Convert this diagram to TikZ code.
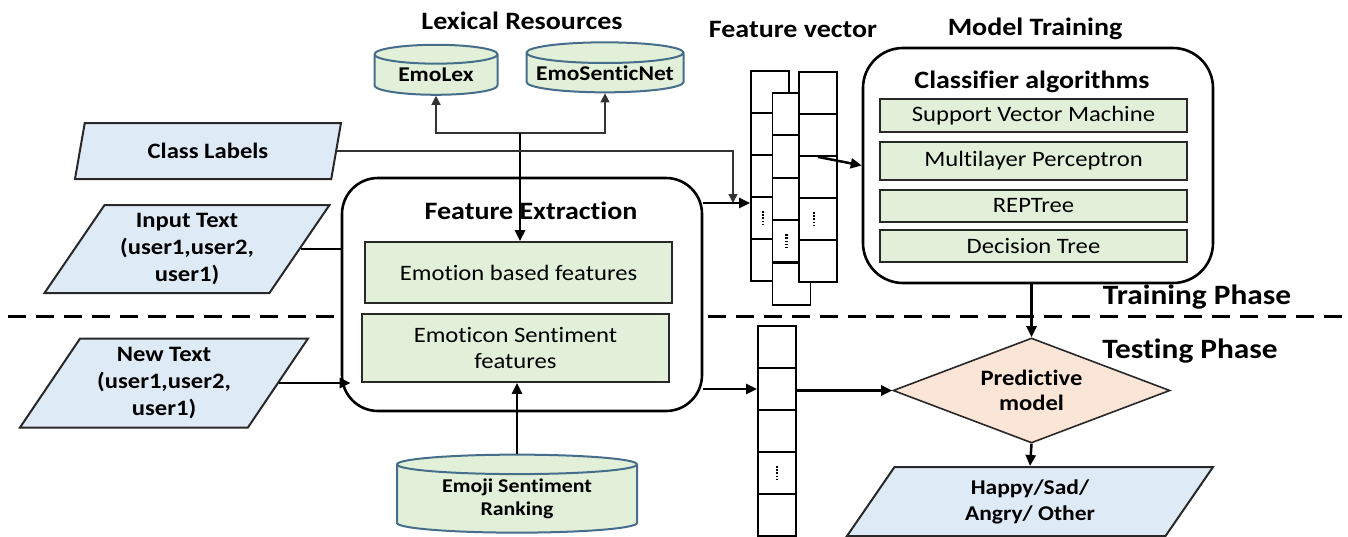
\documentclass[tikz,border=0pt]{standalone}
\usepackage{fontspec}
\setmainfont{Carlito}[FakeStretch=1.12, Ligatures=NoCommon]
\usetikzlibrary{arrows.meta,shapes.geometric,calc,positioning}
\definecolor{paraBlue}{RGB}{222,235,247}
\definecolor{boxGreen}{RGB}{226,240,217}
\definecolor{cylEdge}{RGB}{70,110,140}
\definecolor{diaPeach}{RGB}{251,229,214}
\definecolor{edgeDark}{RGB}{40,40,40}
\tikzset{
  % titles
  ttl/.style      = {font=\bfseries\fontsize{25}{29}\selectfont, inner sep=0pt},
  phase/.style    = {font=\bfseries\fontsize{28}{32}\selectfont, inner sep=0pt},
  % input / output
  para/.style     = {trapezium, trapezium left angle=50, trapezium right angle=130,
                     trapezium stretches body, draw=edgeDark, line width=2pt, fill=paraBlue,
                     align=center, font=\bfseries\fontsize{22}{27}\selectfont, inner sep=0pt},
  % boxes
  featbox/.style  = {rectangle, draw=edgeDark, line width=1.6pt, fill=boxGreen,
                     align=center, font=\fontsize{22}{26}\selectfont, inner sep=0pt},
  roundbox/.style = {rectangle, rounded corners=36pt, draw=black, line width=2.6pt, fill=white},
  db/.style       = {cylinder, shape border rotate=90, draw=cylEdge, line width=2pt,
                     fill=boxGreen, align=center, font=\bfseries\fontsize{21}{24}\selectfont,
                     inner sep=0pt},
  cell/.style     = {rectangle, draw=black, line width=1.8pt, fill=white,
                     minimum width=38pt, minimum height=42pt, inner sep=0pt},
  % lines
  conn/.style     = {line width=2.5pt, -{Triangle[length=11pt,width=10pt]}},
  thinconn/.style = {line width=1.2pt, draw=black!80, -{Triangle[length=9pt,width=9pt]}},
  dotcol/.style   = {line width=2.4pt, dash pattern=on 1.6pt off 1.6pt},
  phaseline/.style= {line width=3pt, dash pattern=on 18pt off 10pt},
}
\begin{document}
\begin{tikzpicture}[x=1pt,y=-1pt]
  \useasboundingbox (0,0) rectangle (1348,536);
  % phase separator
  \coordinate (sepL) at (8,316);
  \coordinate (sepR) at (1346,316);
  \draw[phaseline] (sepL) -- (sepR);
  \node[phase] (training) at (1197,297) {Training Phase};
  \node[phase] (testing) at (1190,351) {Testing Phase};

  % titles
  \node[ttl] (lexres) at (522,21) {Lexical Resources};
  \node[ttl] (fvtitle) at (793,29) {Feature vector};
  \node[ttl] (mttitle) at (1035,29) {Model Training};

  % lexical resources
  \node[db, minimum width=123pt, minimum height=50pt, aspect=0.25] (emolex) at (436,75) {EmoLex};
  \node[db, minimum width=157pt, minimum height=50pt, aspect=0.15] (emosentic) at (605,73) {EmoSenticNet};

  % inputs
  \node[para, trapezium left angle=58, trapezium right angle=122,
        minimum width=266pt, minimum height=56pt] (classlab) at (208,151) {Class Labels};
  \node[para, minimum width=285pt, minimum height=88pt] (inputtxt) at (187,249) {Input Text\\(user1,user2,\\user1)};
  \node[para, minimum width=288pt, minimum height=89pt] (newtxt) at (164,383) {New Text\\(user1,user2,\\user1)};

  % feature extraction
  \node[roundbox, minimum width=360pt, minimum height=233pt] (featext) at (522,294.5) {};
  \node[ttl] (fetitle) at (531,211) {Feature Extraction};
  \node[featbox, minimum width=307pt, minimum height=61pt] (emofeat) at (518.5,272.5) {Emotion based features};
  \node[featbox, minimum width=307pt, minimum height=68pt] (emosent) at (515.5,348) {Emoticon Sentiment\\features};
  \node[db, minimum width=240pt, minimum height=78pt, aspect=0.13,
        font=\bfseries\fontsize{19.5}{23}\selectfont] (emojirank) at (517,499) {Emoji Sentiment\\Ranking};

  % feature vectors (training)
  \foreach \r in {0,...,4}{
    \node[cell] (fa\r) at (770,{92+42*\r}) {};
  }
  \foreach \r in {0,...,4}{
    \node[cell] (fb\r) at (791.5,{114+42.4*\r}) {};
  }
  \foreach \r in {0,...,4}{
    \node[cell] (fc\r) at (818,{93+42*\r}) {};
  }
  \draw[dotcol] ([xshift=-7pt,yshift=7pt]fa3.center) -- ([xshift=-7pt,yshift=-7pt]fa3.center);
  \draw[dotcol] ([xshift=-5pt,yshift=7pt]fb3.center) -- ([xshift=-5pt,yshift=-7pt]fb3.center);
  \draw[dotcol] ([xshift=-4pt,yshift=7pt]fc3.center) -- ([xshift=-4pt,yshift=-7pt]fc3.center);

  % feature vector (testing)
  \foreach \r in {0,...,4}{
    \node[cell] (ta\r) at (777,{347+42*\r}) {};
  }
  \draw[dotcol] ([yshift=7pt]ta3.center) -- ([yshift=-7pt]ta3.center);

  % model training
  \node[roundbox, rounded corners=40pt, minimum width=350pt, minimum height=235pt] (model) at (1038,165.5) {};
  \node[ttl] (clsalg) at (1032,82) {Classifier algorithms};
  \node[featbox, minimum width=307pt, minimum height=33pt] (svm) at (1033.5,115.5) {Support Vector Machine};
  \node[featbox, minimum width=307pt, minimum height=38pt] (mlp) at (1033.5,161) {Multilayer Perceptron};
  \node[featbox, minimum width=307pt, minimum height=32pt] (reptree) at (1033.5,206) {REPTree};
  \node[featbox, minimum width=307pt, minimum height=32pt] (dtree) at (1033.5,246) {Decision Tree};

  % prediction
  \node[diamond, aspect=2.64, minimum width=277pt, minimum height=105pt, inner sep=0pt,
        draw=edgeDark, line width=1.6pt, fill=diaPeach, align=center,
        font=\bfseries\fontsize{22}{25}\selectfont] (predict) at (1031.5,390.5) {Predictive\\model};
  \node[para, trapezium left angle=43, trapezium right angle=137,
        minimum width=366pt, minimum height=69pt, font=\bfseries\fontsize{21}{26}\selectfont]
        (output) at (1030,501.5) {Happy/Sad/\\Angry/ Other};

  % connectors
  \coordinate (lexhub) at (520,133);
  \draw[thinconn] (lexhub) -| (emolex.south);
  \draw[thinconn] (lexhub) -| (emosentic.south);
  \draw[conn] (lexhub) -- (lexhub |- emofeat.north);
  \coordinate (fvin) at (733,203);
  \draw[thinconn] (classlab.east) -| (fvin);
  \draw[conn] (featext.east |- fvin) -- (fvin -| fa0.west);
  \draw[conn] (fc1.south) -- (model.west);
  \draw[line width=2.5pt] (inputtxt.east) -- (inputtxt.east -| featext.west);
  \draw[conn] (newtxt.east) -- ([xshift=10pt]newtxt.east -| featext.west);
  \draw[conn] (emojirank.north) -- (emojirank.north |- emosent.south);
  \draw[conn] (featext.east |- ta1.west) -- (ta1.west);
  \draw[conn] (predict.west -| ta1.east) -- (predict.west);
  \draw[conn] (predict.north |- model.south) -- (predict.north);
  \draw[conn] (predict.south) -- (output.north);
\end{tikzpicture}
\end{document}
